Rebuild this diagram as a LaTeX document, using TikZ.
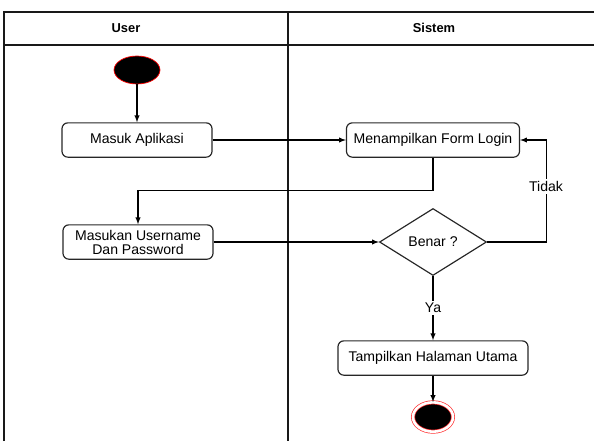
\documentclass[tikz,border=0pt]{standalone}
\usepackage{fontspec}
\setmainfont{Liberation Sans}
\usetikzlibrary{shapes.geometric,arrows.meta}

\tikzset{
    aksi/.style={draw=black!85, line width=1pt, rounded corners=5pt, minimum height=1.03cm, inner sep=2pt, font=\fontsize{12}{13}\selectfont, align=center},
    keputusan/.style={diamond, draw=black!85, line width=1pt, minimum width=3.21cm, minimum height=2.01cm, inner sep=0pt, font=\fontsize{12}{13}\selectfont},
    lajur/.style={line width=1pt, draw=black!90},
    label/.style={fill=white, font=\fontsize{12}{13}\selectfont, inner sep=2pt}
}

\begin{document}
\begin{tikzpicture}[x=0.03cm, y=-0.03cm, line width=1pt]
    \useasboundingbox (0,0) rectangle (594,441);

    % swimlanes
    \draw[lajur] (4,441) -- (4,12) -- (600,12);
    \draw[lajur] (4,45) -- (600,45);
    \draw[lajur] (288,12) -- (288,441);
    \node[font=\bfseries\fontsize{11}{12}\selectfont] (user) at (126,28) {User};
    \node[font=\bfseries\fontsize{11}{12}\selectfont] (sistem) at (434,28) {Sistem};

    \node[ellipse, draw=red, fill=black, line width=0.6pt, minimum width=1.38cm, minimum height=0.84cm] (mulai) at (137,70) {};
    \node[aksi, minimum width=4.5cm] (masuk) at (137,140) {Masuk Aplikasi};
    \node[aksi, minimum width=5.19cm] (form) at (433,140) {Menampilkan Form Login};
    \node[aksi, minimum width=4.5cm, font=\fontsize{12}{12}\selectfont] (masukan) at (138,242) {Masukan Username\\Dan Password};
    \node[keputusan] (benar) at (433,242) {Benar ?};
    \node[aksi, minimum width=5.7cm] (tampil) at (433,358) {Tampilkan Halaman Utama};
    \node[ellipse, draw=red!80, double=white, double distance=2.2pt, fill=black, line width=0.6pt, minimum width=1.2cm, minimum height=0.88cm] (selesai) at (433,417) {};

    \draw[-latex] (mulai) -- (masuk);
    \draw[-latex] (masuk.east) -- (form.west);
    \draw[-latex] (form.south) -- ++(0,33) -| (masukan.north);
    \draw[-latex] (masukan.east) -- (benar.west);
    \draw[-latex] (benar.east) -- ++(59,0) |- (form.east) node[label, pos=0.27] {Tidak};
    \draw[-latex] (benar.south) -- (tampil.north) node[label, midway] {Ya};
    \draw[-latex] (tampil.south) -- (selesai.north);
\end{tikzpicture}
\end{document}
